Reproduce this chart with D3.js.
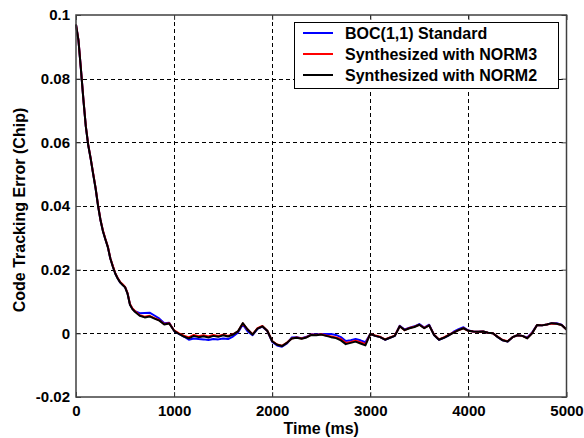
<!DOCTYPE html>
<html>
<head>
<meta charset="utf-8">
<script src="https://cdn.jsdelivr.net/npm/d3@7"></script>
<style>
  html, body { margin: 0; padding: 0; background: #fff; }
  svg { display: block; font-family: "Liberation Sans", Arial, sans-serif; font-weight: bold; }
</style>
</head>
<body>
<svg id="chart" width="584" height="438"></svg>
<script>
// ---- data ----
const timeMs = [0,25,50,75,100,125,150,175,200,225,250,275,300,325,350,375,400,425,450,475,500,525,550,575,600,
  650,700,750,800,850,900,950,1000,1050,1100,1150,1200,1250,1300,1350,1400,1450,1500,1550,1600,1650,1700,1750,1800,1850,1900,1950,
  2000,2050,2100,2150,2200,2250,2300,2350,2400,2450,2500,2550,2600,2650,2700,2750,2800,2850,2900,2950,
  3000,3050,3100,3150,3200,3250,3300,3350,3400,3450,3500,3550,3600,3650,3700,3750,3800,3850,3900,3950,
  4000,4050,4100,4150,4200,4250,4300,4350,4400,4450,4500,4550,4600,4650,4700,4750,4800,4850,4900,4950,5000];

const norm2 = [0.097,0.092,0.083,0.0735,0.065,0.059,0.0548,0.050,0.0455,0.040,0.0355,0.032,0.0295,0.027,0.0235,0.021,0.0188,0.0172,0.016,0.0152,0.0145,0.0125,0.009,0.0076,0.0068,
  0.0055,0.0050,0.0053,0.0046,0.0040,0.0028,0.0031,0.0008,-0.0002,-0.0010,-0.0016,-0.0008,-0.0012,-0.0009,-0.0013,-0.0008,-0.0011,-0.0006,-0.0010,-0.0004,0.0006,0.0032,0.0012,-0.0004,0.0015,0.0022,0.0008,
  -0.0025,-0.0036,-0.0040,-0.0030,-0.0016,-0.0014,-0.0017,-0.0013,-0.0005,-0.0006,-0.0004,-0.0008,-0.0012,-0.0015,-0.0022,-0.0034,-0.0030,-0.0026,-0.0032,-0.0038,
  -0.0002,-0.0008,-0.0012,-0.0020,-0.0014,-0.0008,0.0022,0.0010,0.0016,0.0020,0.0027,0.0016,0.0025,-0.0005,-0.0020,-0.0014,-0.0006,0.0002,0.0010,0.0016,
  0.0008,0.0006,0.0005,0.0006,0.0002,0.0000,-0.0012,-0.0022,-0.0026,-0.0012,-0.0006,-0.0008,-0.0016,0.0000,0.0026,0.0025,0.0028,0.0032,0.0030,0.0026,0.0012];

const norm3 = [0.097,0.0922,0.0832,0.0737,0.0651,0.0592,0.0549,0.0502,0.0456,0.0402,0.0356,0.0322,0.0296,0.0272,0.0236,0.0212,0.0189,0.0174,0.0161,0.0154,0.0146,0.0127,0.0092,0.0078,0.0070,
  0.0057,0.0052,0.0055,0.0048,0.0041,0.0029,0.0032,0.0009,0.0000,-0.0007,-0.0013,-0.0005,-0.0009,-0.0006,-0.0010,-0.0005,-0.0008,-0.0004,-0.0008,-0.0003,0.0006,0.0031,0.0012,-0.0003,0.0016,0.0023,0.0008,
  -0.0024,-0.0035,-0.0039,-0.0029,-0.0016,-0.0013,-0.0016,-0.0012,-0.0004,-0.0005,-0.0003,-0.0007,-0.0010,-0.0013,-0.0018,-0.0030,-0.0027,-0.0023,-0.0028,-0.0034,
  -0.0002,-0.0007,-0.0011,-0.0019,-0.0013,-0.0007,0.0022,0.0010,0.0017,0.0021,0.0027,0.0017,0.0025,-0.0004,-0.0019,-0.0013,-0.0005,0.0003,0.0010,0.0016,
  0.0008,0.0006,0.0005,0.0006,0.0002,0.0000,-0.0011,-0.0021,-0.0025,-0.0012,-0.0006,-0.0008,-0.0015,0.0001,0.0026,0.0025,0.0028,0.0031,0.0030,0.0026,0.0012];

const boc = [0.097,0.0921,0.0831,0.0736,0.0650,0.0591,0.0548,0.0501,0.0455,0.0401,0.0355,0.0321,0.0295,0.0271,0.0235,0.0211,0.0188,0.0173,0.0160,0.0153,0.0145,0.0126,0.0091,0.0077,0.0070,
  0.0063,0.0064,0.0065,0.0056,0.0046,0.0032,0.0033,0.0008,-0.0002,-0.0010,-0.0020,-0.0016,-0.0018,-0.0019,-0.0021,-0.0018,-0.0019,-0.0016,-0.0018,-0.0010,0.0002,0.0028,0.0006,-0.0006,0.0014,0.0021,0.0007,
  -0.0027,-0.0038,-0.0042,-0.0032,-0.0013,-0.0012,-0.0015,-0.0011,-0.0003,-0.0004,-0.0002,-0.0002,-0.0002,-0.0005,-0.0012,-0.0024,-0.0022,-0.0018,-0.0022,-0.0028,
  -0.0002,-0.0008,-0.0012,-0.0020,-0.0014,-0.0008,0.0024,0.0012,0.0018,0.0022,0.0029,0.0018,0.0027,-0.0005,-0.0020,-0.0014,-0.0006,0.0005,0.0013,0.0019,
  0.0009,0.0006,0.0005,0.0006,0.0002,0.0000,-0.0012,-0.0022,-0.0026,-0.0012,-0.0006,-0.0008,-0.0013,0.0003,0.0026,0.0025,0.0028,0.0032,0.0032,0.0027,0.0012];

const xTicks = [0,1000,2000,3000,4000,5000];
const xTickLabels = ["0","1000","2000","3000","4000","5000"];
const yTicks = [-0.02,0,0.02,0.04,0.06,0.08,0.1];
const yTickLabels = ["-0.02","0","0.02","0.04","0.06","0.08","0.1"];
const seriesNames = ["BOC(1,1) Standard","Synthesized with NORM3","Synthesized with NORM2"];
const seriesColors = ["#0000ff","#ff0000","#000000"];

// ---- layout ----
const svg = d3.select("#chart");
const x = d3.scaleLinear().domain([0,5000]).range([76,566.5]);
const y = d3.scaleLinear().domain([-0.02,0.1]).range([397,15]);

// grid
const grid = svg.append("g").attr("stroke","#000").attr("stroke-width",1).attr("stroke-dasharray","4,3").attr("shape-rendering","crispEdges");
grid.selectAll("line.gx").data(xTicks.slice(1,-1)).join("line")
  .attr("x1",d=>Math.round(x(d))+0.5).attr("x2",d=>Math.round(x(d))+0.5)
  .attr("y1",y(0.1)).attr("y2",y(-0.02));
grid.selectAll("line.gy").data(yTicks.slice(1,-1)).join("line")
  .attr("y1",d=>Math.round(y(d))+0.5).attr("y2",d=>Math.round(y(d))+0.5)
  .attr("x1",x(0)).attr("x2",x(5000));

// lines
const line = d3.line().x((d,i)=>x(timeMs[i])).y(d=>y(d)).curve(d3.curveLinear);
const allSeries = [boc, norm3, norm2];
svg.append("g").selectAll("path").data(allSeries).join("path")
  .attr("d", d=>line(d)).attr("fill","none")
  .attr("stroke",(d,i)=>seriesColors[i]).attr("stroke-width",2).attr("stroke-linejoin","round");

// axes
const fmtX = d => xTickLabels[xTicks.indexOf(d)];
const fmtY = d => yTickLabels[yTicks.findIndex(v=>Math.abs(v-d)<1e-9)];
const axisStyle = g => {
  g.select(".domain").remove();
  g.selectAll("line").attr("stroke","#404040");
  g.selectAll("text").attr("font-size","15px").attr("font-weight","bold").attr("fill","#000")
    .attr("font-family",'"Liberation Sans", Arial, sans-serif');
};
svg.append("g").attr("transform",`translate(0,${y(-0.02)})`)
  .call(d3.axisBottom(x).tickValues(xTicks).tickFormat(fmtX).tickSizeInner(-5).tickSizeOuter(0).tickPadding(8))
  .call(axisStyle);
svg.append("g").attr("transform",`translate(${x(0)},0)`)
  .call(d3.axisLeft(y).tickValues(yTicks).tickFormat(fmtY).tickSizeInner(-5).tickSizeOuter(0).tickPadding(6))
  .call(axisStyle);
svg.append("g").attr("transform",`translate(0,${y(0.1)})`)
  .call(d3.axisTop(x).tickValues(xTicks).tickFormat("").tickSizeInner(-5).tickSizeOuter(0))
  .call(axisStyle);
svg.append("g").attr("transform",`translate(${x(5000)},0)`)
  .call(d3.axisRight(y).tickValues(yTicks).tickFormat("").tickSizeInner(-5).tickSizeOuter(0))
  .call(axisStyle);

// box
svg.append("rect").attr("x",x(0)).attr("y",y(0.1)).attr("width",x(5000)-x(0)).attr("height",y(-0.02)-y(0.1))
  .attr("fill","none").attr("stroke","#404040").attr("stroke-width",1.5);

// axis titles
svg.append("text").attr("x",(x(0)+x(5000))/2).attr("y",434).attr("text-anchor","middle")
  .attr("font-size","16px").text("Time (ms)");
svg.append("text").attr("transform",`translate(25,${(y(0.1)+y(-0.02))/2 + 4}) rotate(-90)`).attr("text-anchor","middle")
  .attr("font-size","16px").text("Code Tracking Error (Chip)");

// legend
const lg = svg.append("g");
lg.append("rect").attr("x",294.5).attr("y",22.5).attr("width",264).attr("height",66)
  .attr("fill","#fff").attr("stroke","#000").attr("stroke-width",1);
const items = lg.selectAll("g.item").data(seriesNames).join("g")
  .attr("transform",(d,i)=>`translate(0,${33 + i*21})`);
items.append("line").attr("x1",303).attr("x2",333).attr("y1",0).attr("y2",0)
  .attr("stroke",(d,i)=>seriesColors[i]).attr("stroke-width",2);
items.append("text").attr("x",345).attr("y",6).attr("font-size","16px").text(d=>d);
</script>
</body>
</html>
